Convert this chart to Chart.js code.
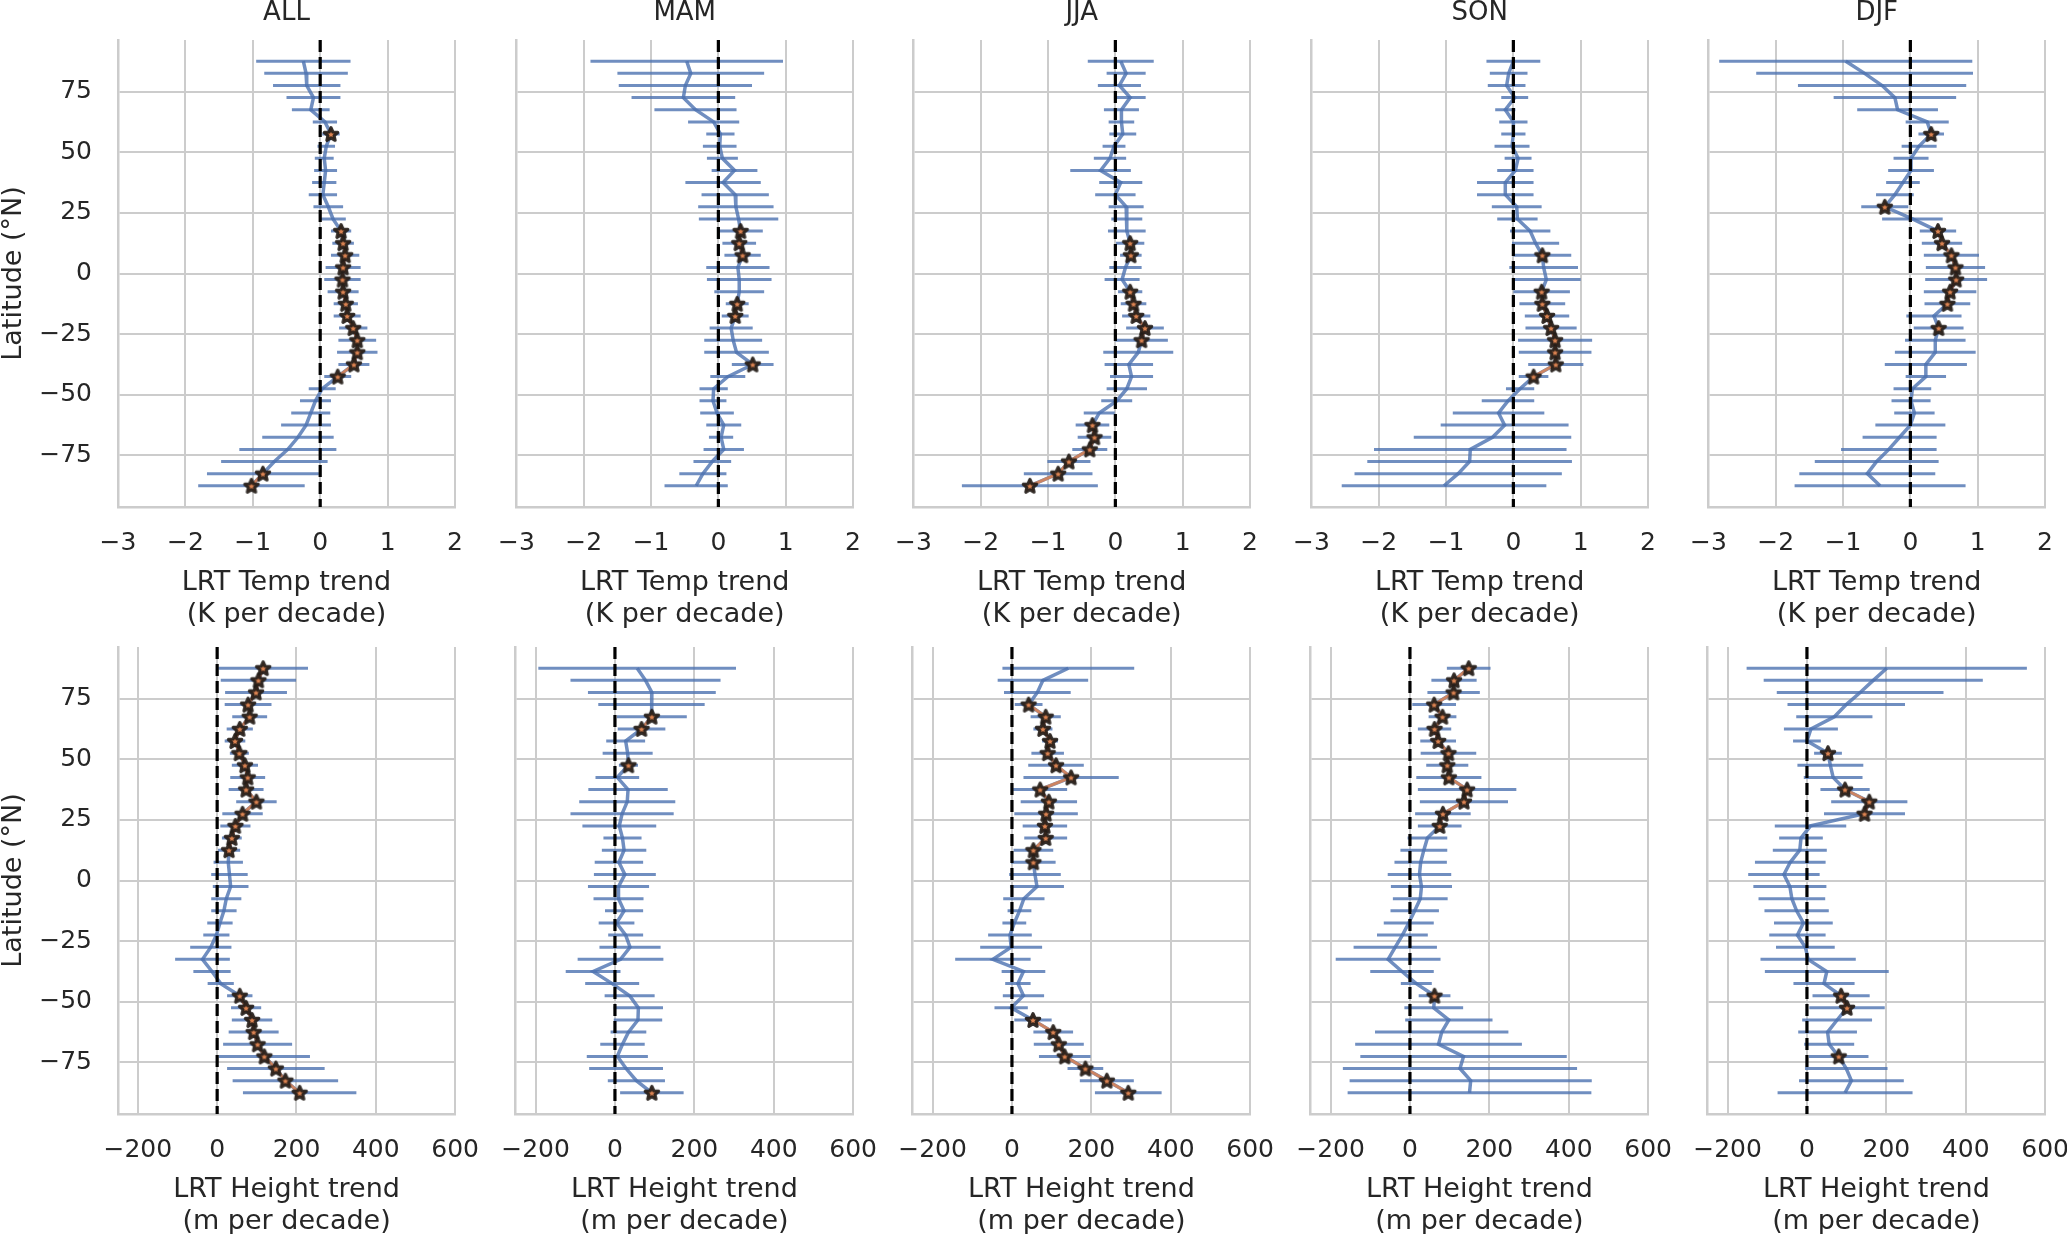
<!DOCTYPE html>
<html>
<head>
<meta charset="utf-8">
<script src="https://cdn.jsdelivr.net/npm/chart.js@4.4.1/dist/chart.umd.min.js"></script>
<style>
html,body{margin:0;padding:0;background:#fff;width:2067px;height:1234px;overflow:hidden;position:relative}
canvas{position:absolute}
</style>
</head>
<body>
<script>
// ---------------- data ----------------
const latitudes = [87.5,82.5,77.5,72.5,67.5,62.5,57.5,52.5,47.5,42.5,37.5,32.5,27.5,22.5,17.5,12.5,7.5,2.5,
  -2.5,-7.5,-12.5,-17.5,-22.5,-27.5,-32.5,-37.5,-42.5,-47.5,-52.5,-57.5,-62.5,-67.5,-72.5,-77.5,-82.5,-87.5];
const seasons = ['ALL','MAM','JJA','SON','DJF'];
const latTicks = [-75,-50,-25,0,25,50,75];
const tempTicks = [-3,-2,-1,0,1,2];
const heightTicks = [-200,0,200,400,600];

// LRT temperature trend (K per decade): trend, error half-width, significance flag
const tempAllTrend = [-0.25,-0.21,-0.20,-0.10,-0.14,0.07,0.16,0.09,0.06,0.08,0.06,0.04,0.12,0.19,0.31,0.34,0.37,0.34,0.33,0.34,0.38,0.40,0.49,0.55,0.55,0.50,0.26,0.03,-0.07,-0.14,-0.21,-0.33,-0.48,-0.68,-0.85,-1.02];
const tempAllErr   = [0.70,0.62,0.50,0.40,0.28,0.18,0.13,0.13,0.14,0.17,0.18,0.21,0.22,0.19,0.15,0.16,0.21,0.26,0.27,0.23,0.18,0.20,0.21,0.28,0.30,0.23,0.20,0.20,0.23,0.29,0.37,0.53,0.72,0.79,0.83,0.79];
const tempAllSig   = [0,0,0,0,0,0,1,0,0,0,0,0,0,0,1,1,1,1,1,1,1,1,1,1,1,1,1,0,0,0,0,0,0,0,1,1];

const tempMamTrend = [-0.47,-0.41,-0.49,-0.52,-0.34,-0.07,0.03,0.02,0.06,0.24,0.07,0.25,0.26,0.30,0.33,0.31,0.36,0.29,0.31,0.31,0.28,0.25,0.19,0.22,0.27,0.51,0.14,-0.07,-0.08,-0.02,0.08,0.04,0.08,-0.09,-0.23,-0.33];
const tempMamErr   = [1.43,1.09,0.99,0.77,0.61,0.38,0.21,0.25,0.23,0.34,0.56,0.50,0.56,0.59,0.33,0.25,0.27,0.47,0.48,0.37,0.17,0.20,0.32,0.43,0.48,0.31,0.26,0.21,0.20,0.25,0.26,0.18,0.30,0.28,0.35,0.47];
const tempMamSig   = [0,0,0,0,0,0,0,0,0,0,0,0,0,0,1,1,1,0,0,0,1,1,0,0,0,1,0,0,0,0,0,0,0,0,0,0];

const tempJjaTrend = [0.08,0.16,0.06,0.22,0.09,0.09,0.11,-0.02,-0.08,-0.22,0.08,0.00,0.16,0.17,0.17,0.22,0.23,0.15,0.10,0.22,0.27,0.31,0.44,0.39,0.34,0.20,0.24,0.17,0.02,-0.24,-0.34,-0.31,-0.38,-0.69,-0.85,-1.27];
const tempJjaErr   = [0.49,0.29,0.32,0.23,0.26,0.19,0.20,0.17,0.24,0.45,0.32,0.30,0.26,0.23,0.28,0.21,0.16,0.24,0.26,0.18,0.19,0.21,0.28,0.39,0.52,0.36,0.32,0.30,0.23,0.23,0.25,0.25,0.26,0.32,0.51,1.01];
const tempJjaSig   = [0,0,0,0,0,0,0,0,0,0,0,0,0,0,0,1,1,0,0,1,1,1,1,1,0,0,0,0,0,0,1,1,1,1,1,1];

const tempSonTrend = [0.00,-0.07,-0.10,0.02,-0.12,0.00,0.00,-0.02,0.07,0.03,-0.12,-0.12,0.05,0.06,0.25,0.33,0.43,0.45,0.49,0.42,0.43,0.50,0.56,0.62,0.62,0.63,0.30,0.10,-0.08,-0.22,-0.13,-0.31,-0.64,-0.65,-0.82,-1.03];
const tempSonErr   = [0.40,0.28,0.28,0.20,0.15,0.21,0.18,0.26,0.20,0.27,0.42,0.42,0.37,0.30,0.30,0.35,0.43,0.51,0.51,0.42,0.34,0.33,0.38,0.55,0.54,0.41,0.22,0.21,0.39,0.68,0.95,1.17,1.43,1.52,1.54,1.52];
const tempSonSig   = [0,0,0,0,0,0,0,0,0,0,0,0,0,0,0,0,1,0,0,1,1,1,1,1,1,1,1,0,0,0,0,0,0,0,0,0];

const tempDjfTrend = [-0.96,-0.68,-0.42,-0.23,-0.19,0.25,0.31,0.13,0.01,0.01,-0.11,-0.23,-0.38,0.03,0.41,0.47,0.61,0.67,0.68,0.59,0.55,0.35,0.42,0.37,0.37,0.23,0.23,0.03,0.01,0.06,0.00,-0.16,-0.32,-0.50,-0.64,-0.45];
const tempDjfErr   = [1.88,1.61,1.25,0.91,0.60,0.32,0.19,0.26,0.26,0.34,0.25,0.28,0.35,0.45,0.27,0.30,0.41,0.44,0.46,0.39,0.34,0.41,0.37,0.45,0.60,0.61,0.30,0.28,0.29,0.30,0.52,0.55,0.71,0.92,1.01,1.27];
const tempDjfSig   = [0,0,0,0,0,0,1,0,0,0,0,0,1,0,1,1,1,1,1,1,1,0,1,0,0,0,0,0,0,0,0,0,0,0,0,0];

// LRT height trend (m per decade)
const heightAllTrend = [116,104,98,78,82,57,45,56,70,77,73,99,64,46,37,30,28,31,34,23,17,7,-2,-16,-37,-13,9,57,73,88,92,102,119,148,172,208];
const heightAllErr   = [113,95,78,59,44,33,26,24,33,44,44,51,51,38,25,28,37,46,45,38,32,32,33,52,69,47,33,32,38,51,63,87,115,123,133,143];
const heightAllSig   = [1,1,1,1,1,1,1,1,1,1,1,1,1,1,1,1,0,0,0,0,0,0,0,0,0,0,0,1,1,1,1,1,1,1,1,1];

const heightMamTrend = [56,77,93,92,93,67,27,32,34,6,33,31,18,11,19,23,10,25,9,9,23,4,27,38,14,-55,-7,37,59,58,34,19,6,28,54,93];
const heightMamErr   = [249,189,161,134,88,60,49,63,24,55,100,121,130,93,48,56,61,78,77,63,48,45,44,77,108,69,68,63,62,61,45,56,77,93,72,80];
const heightMamSig   = [0,0,0,0,1,1,0,0,1,0,0,0,0,0,0,0,0,0,0,0,0,0,0,0,0,0,0,0,0,0,0,0,0,0,0,1];

const heightJjaTrend = [142,78,64,42,85,78,96,90,111,149,71,93,86,83,85,54,54,58,63,30,19,6,-5,-2,-48,29,15,29,-2,53,104,118,133,185,239,293];
const heightJjaErr   = [166,114,84,35,38,24,20,41,70,120,68,71,80,56,54,50,56,65,68,52,30,30,55,78,95,55,32,52,42,47,50,63,65,45,68,84];
const heightJjaSig   = [0,0,0,1,1,1,1,1,1,1,1,1,1,1,1,1,1,0,0,0,0,0,0,0,0,0,0,0,0,1,1,1,1,1,1,1];

const heightSonTrend = [148,111,110,61,82,62,71,97,94,98,144,136,83,75,44,35,27,24,29,26,12,-3,-19,-37,-55,-20,16,62,60,98,80,72,135,126,153,150];
const heightSonErr   = [55,57,66,55,35,42,45,70,53,82,124,111,70,55,50,59,66,80,77,69,61,63,64,105,132,80,39,40,74,110,168,210,260,295,305,307];
const heightSonSig   = [1,1,1,1,1,1,1,1,1,1,1,1,1,1,0,0,0,0,0,0,0,0,0,0,0,0,0,1,0,0,0,0,0,0,0,0];

const heightDjfTrend = [201,167,134,99,69,10,0,53,59,66,96,157,145,9,-15,-18,-42,-58,-43,-38,-26,-9,-24,-4,3,50,43,86,101,76,52,56,80,99,112,96];
const heightDjfErr   = [353,276,210,148,96,68,35,35,83,74,62,96,102,90,55,68,89,90,92,84,81,74,71,74,120,156,77,72,95,88,74,63,75,104,132,170];
const heightDjfSig   = [0,0,0,0,0,0,0,1,0,0,1,1,1,0,0,0,0,0,0,0,0,0,0,0,0,0,0,1,1,0,0,0,1,0,0,0];

// ---------------- styling / layout ----------------
const FONT = 'DejaVu Sans';
const TXT = '#262626';
const BLUE = 'rgba(76,114,176,0.8)';
const ORANGE = 'rgba(221,132,82,0.85)';
const GRID = '#cccccc';
const plotLefts = [118, 516, 913, 1311, 1708];
const plotW = 337;
const rowTops = [40, 647];
const plotH = 467;

const panels = [
  {row:0,col:0,trend:tempAllTrend,err:tempAllErr,sig:tempAllSig},
  {row:0,col:1,trend:tempMamTrend,err:tempMamErr,sig:tempMamSig},
  {row:0,col:2,trend:tempJjaTrend,err:tempJjaErr,sig:tempJjaSig},
  {row:0,col:3,trend:tempSonTrend,err:tempSonErr,sig:tempSonSig},
  {row:0,col:4,trend:tempDjfTrend,err:tempDjfErr,sig:tempDjfSig},
  {row:1,col:0,trend:heightAllTrend,err:heightAllErr,sig:heightAllSig},
  {row:1,col:1,trend:heightMamTrend,err:heightMamErr,sig:heightMamSig},
  {row:1,col:2,trend:heightJjaTrend,err:heightJjaErr,sig:heightJjaSig},
  {row:1,col:3,trend:heightSonTrend,err:heightSonErr,sig:heightSonSig},
  {row:1,col:4,trend:heightDjfTrend,err:heightDjfErr,sig:heightDjfSig},
];

function fmt(v){ return v < 0 ? '\u2212' + Math.abs(v) : String(v); }

function makeStar(){
  const s = 24, c = document.createElement('canvas');
  c.width = s; c.height = s;
  const g = c.getContext('2d');
  const R = 7.0, r = R*0.46, cx = s/2, cy = s/2 + 0.6;
  g.beginPath();
  for (let k = 0; k < 10; k++) {
    const ang = -Math.PI/2 + k*Math.PI/5;
    const rad = (k % 2 === 0) ? R : r;
    g.lineTo(cx + rad*Math.cos(ang), cy + rad*Math.sin(ang));
  }
  g.closePath();
  g.fillStyle = '#dd8452';
  g.fill();
  g.lineWidth = 3.2;
  g.lineJoin = 'round';
  g.strokeStyle = 'rgba(35,28,24,0.92)';
  g.stroke();
  return c;
}
const STAR = makeStar();

const zeroLine = {
  id: 'zeroLine',
  afterDatasetsDraw(chart){
    const {ctx, chartArea:a} = chart;
    const px = chart.scales.x.getPixelForValue(0);
    ctx.save();
    ctx.beginPath();
    ctx.setLineDash([12,5]);
    ctx.lineWidth = 3.2;
    ctx.strokeStyle = '#000000';
    ctx.moveTo(px, a.top);
    ctx.lineTo(px, a.bottom);
    ctx.stroke();
    ctx.restore();
  }
};

function makeConfig(p){
  const isTemp = p.row === 0;
  const errData = [], lineData = [], orangeData = [], starData = [];
  p.trend.forEach((c, i) => {
    const lat = latitudes[i];
    errData.push({x: c - p.err[i], y: lat}, {x: c + p.err[i], y: lat}, {x: null, y: null});
    lineData.push({x: c, y: lat});
    orangeData.push(p.sig[i] ? {x: c, y: lat} : {x: null, y: null});
    if (p.sig[i]) starData.push({x: c, y: lat});
  });
  return {
    type: 'line',
    data: { datasets: [
      {data: starData, showLine: false, pointStyle: STAR, pointRadius: 8, order: 0},
      {data: orangeData, borderColor: ORANGE, borderWidth: 3, pointRadius: 0, spanGaps: false, order: 1},
      {data: lineData, borderColor: BLUE, borderWidth: 3.5, pointRadius: 0, order: 2},
      {data: errData, borderColor: BLUE, borderWidth: 3, pointRadius: 0, spanGaps: false, order: 3}
    ]},
    options: {
      responsive: false,
      maintainAspectRatio: false,
      animation: false,
      devicePixelRatio: 1,
      events: [],
      layout: {padding: {left: 0, right: 34, top: 0, bottom: 0}},
      plugins: {
        legend: {display: false},
        tooltip: {enabled: false},
        title: {
          display: isTemp, text: seasons[p.col], fullSize: false,
          font: {family: FONT, size: 26, weight: 'normal', lineHeight: 1},
          color: TXT, padding: {top: 40, bottom: 14}
        }
      },
      scales: {
        x: {
          type: 'linear',
          min: isTemp ? -3 : -250, max: isTemp ? 2 : 600,
          afterBuildTicks: ax => { ax.ticks = (isTemp ? tempTicks : heightTicks).map(v => ({value: v})); },
          grid: {color: GRID, lineWidth: 2, drawTicks: false},
          border: {display: true, color: GRID, width: 2.5},
          ticks: {padding: 21, font: {family: FONT, size: 25}, color: TXT, callback: v => fmt(v), maxRotation: 0, autoSkip: false},
          title: {
            display: true,
            text: isTemp ? ['LRT Temp trend', '(K per decade)'] : ['LRT Height trend', '(m per decade)'],
            font: {family: FONT, size: 27, lineHeight: 32/27}, color: TXT, padding: 0
          },
          afterFit: ax => { ax.height = 124; }
        },
        y: {
          type: 'linear', min: -96.25, max: 96.25,
          afterBuildTicks: ax => { ax.ticks = latTicks.map(v => ({value: v})); },
          grid: {color: GRID, lineWidth: 2, drawTicks: false},
          border: {display: true, color: GRID, width: 2.5},
          ticks: {display: p.col === 0, padding: 26, font: {family: FONT, size: 25}, color: TXT, callback: v => fmt(v)},
          title: {display: p.col === 0, text: 'Latitude (°N)', font: {family: FONT, size: 27, lineHeight: 1}, color: TXT, padding: 0},
          afterFit: ax => { ax.width = p.col === 0 ? 118 : 36; }
        }
      }
    },
    plugins: [zeroLine]
  };
}

function buildPanel(p){
  const target = {x: plotLefts[p.col], y: rowTops[p.row], w: plotW, h: plotH};
  let w = target.w + 160, h = target.h + 220;
  let chart = null, canvas = null;
  for (let pass = 0; pass < 4; pass++) {
    if (chart) { chart.destroy(); canvas.remove(); }
    canvas = document.createElement('canvas');
    const W = Math.round(w), H = Math.round(h);
    canvas.width = W; canvas.height = H;
    canvas.style.width = W + 'px'; canvas.style.height = H + 'px';
    document.body.appendChild(canvas);
    chart = new Chart(canvas, makeConfig(p));
    const a = chart.chartArea;
    const dw = target.w - (a.right - a.left), dh = target.h - (a.bottom - a.top);
    if (Math.abs(dw) < 0.5 && Math.abs(dh) < 0.5) break;
    w += dw; h += dh;
  }
  canvas.style.left = (target.x - chart.chartArea.left) + 'px';
  canvas.style.top = (target.y - chart.chartArea.top) + 'px';
}

panels.forEach(buildPanel);
</script>
</body>
</html>
